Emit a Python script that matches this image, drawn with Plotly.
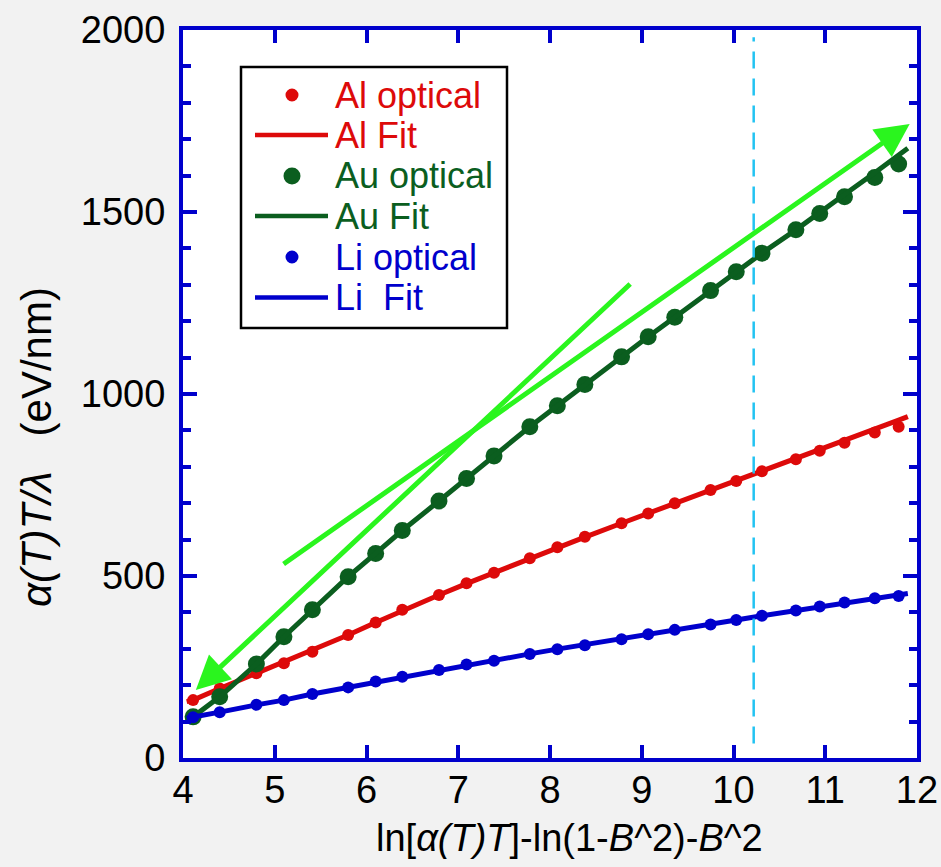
import plotly.graph_objects as go

# Sample positions (shared by all three materials)
x_pts = [4.11, 4.40, 4.80, 5.10, 5.41, 5.80, 6.10, 6.39, 6.79, 7.09, 7.39, 7.78, 8.08,
         8.38, 8.78, 9.07, 9.36, 9.75, 10.03, 10.31, 10.68, 10.94, 11.21, 11.54, 11.80]

al_opt = [159, 191, 233, 260, 292, 338, 372, 407, 448, 480, 509, 549, 579,
          608, 645, 672, 700, 736, 761, 788, 821, 844, 866, 894, 910]
au_opt = [113, 168, 258, 333, 407, 498, 562, 625, 706, 768, 830, 910, 968,
          1026, 1102, 1157, 1211, 1284, 1336, 1387, 1451, 1496, 1542, 1595, 1632]
li_opt = [112, 126, 146, 159, 176, 194, 210, 223, 242, 257, 267, 286, 299,
          310, 326, 340, 352, 367, 379, 391, 405, 416, 427, 439, 445]

# Fit curves
x_fit = [4.04] + x_pts + [11.90]
al_fit = [155, 159, 191, 233, 262, 294, 338, 372, 405, 448, 479, 509, 549, 578,
          607, 645, 672, 700, 735, 761, 787, 821, 845, 870, 902, 928, 938]
au_fit = [104, 113, 168, 258, 333, 407, 498, 562, 625, 706, 768, 830, 910, 968,
          1026, 1102, 1157, 1211, 1284, 1336, 1387, 1451, 1500, 1548, 1608, 1657, 1675]
li_fit = [109, 112, 126, 146, 159, 176, 194, 210, 223, 242, 257, 268, 286, 299,
          311, 326, 340, 352, 367, 379, 391, 405, 416, 427, 439, 447, 452]

# Guide arrows (tail -> tip) and the vertical marker position
arrows = [((5.08, 530), (11.92, 1742)), ((8.89, 1306), (4.14, 187))]
x_marker = 10.22

x_ticks = [4, 5, 6, 7, 8, 9, 10, 11, 12]
y_ticks = [0, 500, 1000, 1500, 2000]

legend_labels = ["Al optical", "Al Fit", "Au optical", "Au Fit", "Li optical", "Li  Fit"]

RED = "#dd0a0a"
GREEN = "#0b5e1f"
BLUE = "#0000cc"
LIME = "#2af51e"
CYAN = "#22c3f2"
FONT = "Liberation Sans, Arial, Helvetica, sans-serif"

W, H = 941, 867
ML, MR, MT, MB = 183, 24, 30, 109
PW, PH = W - ML - MR, H - MT - MB


def px(xp):
    return (xp - ML) / PW


def py(yp):
    return (H - MB - yp) / PH


fig = go.Figure()

series = [
    (al_opt, al_fit, RED, 12, "Al"),
    (au_opt, au_fit, GREEN, 17, "Au"),
    (li_opt, li_fit, BLUE, 12, "Li"),
]
for opt, fit, col, msize, name in series:
    fig.add_trace(go.Scatter(x=x_pts, y=opt, mode="markers", name=name + " optical",
                             marker=dict(color=col, size=msize), showlegend=False))
    fig.add_trace(go.Scatter(x=x_fit, y=fit, mode="lines", name=name + " Fit",
                             line=dict(color=col, width=5), showlegend=False))

shapes = []
# dashed vertical marker
shapes.append(dict(type="line", xref="x", yref="y", x0=x_marker, x1=x_marker, y0=40, y1=1980,
                   line=dict(color=CYAN, width=2.5, dash="17px,10px")))

# legend box
shapes.append(dict(type="rect", xref="paper", yref="paper", x0=px(241), x1=px(507),
                   y0=py(328), y1=py(67), line=dict(color="black", width=2.5),
                   fillcolor="white", layer="above"))

annotations = []
row_y = [95, 135, 176, 216, 257, 297.5]
row_col = [RED, RED, GREEN, GREEN, BLUE, BLUE]
for i, (lab, yy, col) in enumerate(zip(legend_labels, row_y, row_col)):
    if i % 2 == 0:
        r = 8.5 if col == GREEN else 6.5
        shapes.append(dict(type="circle", xref="paper", yref="paper", xsizemode="pixel",
                           ysizemode="pixel", xanchor=px(292), yanchor=py(yy),
                           x0=-r, x1=r, y0=-r, y1=r, fillcolor=col, line=dict(width=0),
                           layer="above"))
    else:
        shapes.append(dict(type="line", xref="paper", yref="paper", x0=px(255), x1=px(328),
                           y0=py(yy), y1=py(yy), line=dict(color=col, width=4.5),
                           layer="above"))
    annotations.append(dict(text=lab, xref="paper", yref="paper", x=px(333), y=py(yy),
                            xanchor="left", yanchor="middle", showarrow=False,
                            font=dict(family=FONT, size=36, color=col)))

for (tx, ty), (hx, hy) in arrows:
    annotations.append(dict(text="", x=hx, y=hy, ax=tx, ay=ty, xref="x", yref="y",
                            axref="x", ayref="y", showarrow=True, arrowhead=2,
                            arrowsize=1.35, arrowwidth=5, arrowcolor=LIME, standoff=0))

# axis titles, placed as text beside the tick labels
annotations.append(dict(text="ln[<i>α(T)T</i>]-ln(1-<i>B</i>^2)-<i>B</i>^2",
                        xref="paper", yref="paper", x=px(569), y=py(838),
                        xanchor="center", yanchor="middle", showarrow=False,
                        font=dict(family=FONT, size=38, color="black")))
annotations.append(dict(text="<i>α(T)T/λ</i>\u00a0\u00a0\u00a0(eV/nm)",
                        xref="paper", yref="paper", x=px(36), y=py(447),
                        xanchor="center", yanchor="middle", showarrow=False, textangle=-90,
                        font=dict(family=FONT, size=42, color="black")))

axis_common = dict(showline=True, linecolor=BLUE, linewidth=4, mirror="ticks",
                   ticks="inside", tickcolor=BLUE, tickwidth=3.5, showgrid=False,
                   zeroline=False, automargin=False,
                   tickfont=dict(family=FONT, size=38, color="black"))

fig.update_layout(
    width=W, height=H,
    margin=dict(l=ML, r=MR, t=MT, b=MB),
    paper_bgcolor="#f2f2f2", plot_bgcolor="white",
    showlegend=False,
    xaxis=dict(range=[4, 12], tickvals=x_ticks, ticklen=13,
               ticklabelstandoff=-5, **axis_common),
    yaxis=dict(range=[0, 2000], tickvals=y_ticks, ticklen=14,
               ticklabelstandoff=6,
               minor=dict(dtick=100, ticks="inside", ticklen=8, tickwidth=3.5,
                          tickcolor=BLUE, showgrid=False),
               **axis_common),
    shapes=shapes,
    annotations=annotations,
)

fig.write_html("out.html")
